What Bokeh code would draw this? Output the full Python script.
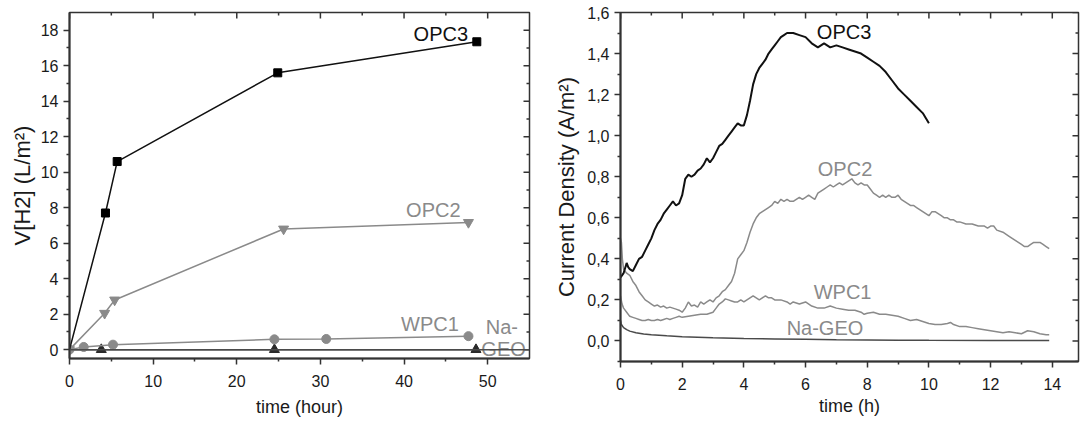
import math
from bokeh.plotting import figure
from bokeh.models import Range1d, FixedTicker, Span, Title
from bokeh.layouts import row
from bokeh.core.properties import value
from bokeh.embed import file_html
from bokeh.resources import INLINE

# ---------------- left chart data: V[H2] vs time (hour) ----------------
t_opc3 = [0, 4.3, 5.7, 24.9, 48.7]
v_opc3 = [0, 7.7, 10.6, 15.6, 17.35]
t_opc2 = [0, 4.2, 5.4, 25.6, 47.7]
v_opc2 = [0, 2.05, 2.8, 6.8, 7.17]
t_wpc1 = [0, 1.7, 5.2, 24.5, 30.7, 47.7]
v_wpc1 = [0, 0.15, 0.28, 0.58, 0.6, 0.76]
t_nageo = [0, 3.8, 24.5, 48.6]
v_nageo = [0, 0, 0, 0]

left_x_ticks = [0, 10, 20, 30, 40, 50]
left_x_minor = [5, 15, 25, 35, 45]
left_y_ticks = [0, 2, 4, 6, 8, 10, 12, 14, 16, 18]
left_y_minor = [1, 3, 5, 7, 9, 11, 13, 15, 17]

# ---------------- right chart data: current density vs time (h) ----------------
cd_t_opc3 = [0.00, 0.05, 0.10, 0.20, 0.25, 0.30, 0.40, 0.50, 0.60, 0.70, 0.80, 0.90,
             1.00, 1.10, 1.20, 1.30, 1.40, 1.50, 1.60, 1.70, 1.80, 1.90, 2.00, 2.10,
             2.20, 2.30, 2.40, 2.50, 2.60, 2.70, 2.80, 2.90, 3.00, 3.10, 3.20, 3.30,
             3.40, 3.50, 3.60, 3.70, 3.80, 3.90, 4.00, 4.10, 4.20, 4.30, 4.40, 4.50,
             4.60, 4.70, 4.80, 4.90, 5.00, 5.10, 5.20, 5.30, 5.40, 5.60, 5.80, 6.00,
             6.20, 6.40, 6.60, 6.80, 7.00, 7.20, 7.40, 7.60, 7.80, 8.00, 8.20, 8.40,
             8.60, 8.80, 9.00, 9.20, 9.40, 9.60, 9.80, 10.00]
cd_opc3 = [0.31, 0.32, 0.33, 0.38, 0.36, 0.35, 0.34, 0.37, 0.40, 0.41, 0.44, 0.47,
           0.50, 0.54, 0.57, 0.59, 0.62, 0.64, 0.66, 0.68, 0.66, 0.67, 0.71, 0.79,
           0.81, 0.80, 0.81, 0.83, 0.84, 0.86, 0.89, 0.87, 0.89, 0.92, 0.95, 0.96,
           0.98, 1.00, 1.02, 1.04, 1.06, 1.05, 1.05, 1.10, 1.17, 1.25, 1.30, 1.33,
           1.35, 1.37, 1.40, 1.42, 1.44, 1.46, 1.48, 1.49, 1.50, 1.50, 1.49, 1.48,
           1.45, 1.43, 1.45, 1.43, 1.44, 1.43, 1.42, 1.41, 1.40, 1.38, 1.36, 1.34,
           1.31, 1.27, 1.23, 1.20, 1.17, 1.14, 1.11, 1.06]

cd_t_opc2 = [0.00, 0.03, 0.06, 0.10, 0.20, 0.30, 0.40, 0.50, 0.60, 0.70, 0.80, 0.90,
             1.00, 1.10, 1.20, 1.30, 1.40, 1.50, 1.60, 1.70, 1.80, 1.90, 2.00, 2.10,
             2.20, 2.30, 2.40, 2.50, 2.60, 2.70, 2.80, 2.90, 3.00, 3.10, 3.20, 3.30,
             3.40, 3.50, 3.60, 3.70, 3.80, 3.90, 4.00, 4.10, 4.20, 4.30, 4.40, 4.50,
             4.60, 4.70, 4.80, 4.90, 5.00, 5.10, 5.20, 5.30, 5.40, 5.50, 5.60, 5.70,
             5.80, 5.90, 6.00, 6.10, 6.20, 6.30, 6.40, 6.50, 6.60, 6.70, 6.80, 6.90,
             7.00, 7.10, 7.20, 7.30, 7.40, 7.50, 7.60, 7.70, 7.80, 7.90, 8.00, 8.10,
             8.20, 8.30, 8.40, 8.50, 8.60, 8.70, 8.80, 8.90, 9.00, 9.10, 9.20, 9.30,
             9.40, 9.50, 9.60, 9.70, 9.80, 9.90, 10.00, 10.10, 10.20, 10.30, 10.40,
             10.50, 10.60, 10.70, 10.80, 10.90, 11.00, 11.20, 11.40, 11.60, 11.80,
             11.90, 12.00, 12.10, 12.20, 12.40, 12.60, 12.80, 13.00, 13.10, 13.20,
             13.30, 13.40, 13.50, 13.60, 13.70, 13.80, 13.90]
cd_opc2 = [0.50, 0.48, 0.40, 0.35, 0.33, 0.32, 0.29, 0.27, 0.24, 0.22, 0.20, 0.19,
           0.18, 0.17, 0.175, 0.165, 0.17, 0.16, 0.165, 0.16, 0.155, 0.15, 0.14, 0.16,
           0.19, 0.17, 0.175, 0.165, 0.19, 0.18, 0.19, 0.20, 0.19, 0.21, 0.22, 0.24,
           0.25, 0.27, 0.29, 0.33, 0.40, 0.42, 0.44, 0.48, 0.53, 0.57, 0.60, 0.62,
           0.63, 0.64, 0.65, 0.66, 0.68, 0.67, 0.69, 0.68, 0.69, 0.68, 0.68, 0.69,
           0.70, 0.69, 0.70, 0.71, 0.70, 0.69, 0.72, 0.73, 0.74, 0.75, 0.76, 0.75,
           0.76, 0.77, 0.76, 0.77, 0.78, 0.79, 0.77, 0.76, 0.77, 0.76, 0.76, 0.74,
           0.72, 0.71, 0.70, 0.71, 0.70, 0.71, 0.70, 0.70, 0.71, 0.69, 0.68, 0.67,
           0.66, 0.66, 0.65, 0.64, 0.63, 0.62, 0.61, 0.63, 0.63, 0.62, 0.61,
           0.60, 0.60, 0.59, 0.59, 0.58, 0.58, 0.57, 0.57, 0.56, 0.56,
           0.55, 0.56, 0.56, 0.54, 0.53, 0.51, 0.49, 0.47, 0.46, 0.46,
           0.47, 0.48, 0.48, 0.48, 0.47, 0.46, 0.45]

cd_t_wpc1 = [0.00, 0.05, 0.10, 0.20, 0.30, 0.40, 0.50, 0.60, 0.70, 0.80, 0.90, 1.00,
             1.10, 1.20, 1.30, 1.40, 1.50, 1.60, 1.70, 1.80, 1.90, 2.00, 2.20, 2.40,
             2.60, 2.80, 3.00, 3.10, 3.20, 3.30, 3.40, 3.50, 3.60, 3.70, 3.80, 3.90,
             4.00, 4.10, 4.20, 4.30, 4.40, 4.50, 4.60, 4.70, 4.80, 4.90, 5.00, 5.20,
             5.40, 5.50, 5.60, 5.80, 6.00, 6.20, 6.40, 6.60, 6.80, 7.00, 7.20, 7.40,
             7.60, 7.80, 7.90, 8.00, 8.20, 8.40, 8.60, 8.80, 9.00, 9.20, 9.40, 9.60,
             9.80, 10.00, 10.20, 10.40, 10.60, 10.70, 10.80, 11.00, 11.20, 11.40,
             11.60, 11.80, 12.00, 12.20, 12.40, 12.60, 12.80, 13.00, 13.20, 13.40,
             13.60, 13.80, 13.90]
cd_wpc1 = [0.22, 0.18, 0.16, 0.14, 0.12, 0.115, 0.11, 0.105, 0.10, 0.10, 0.105, 0.10,
           0.10, 0.105, 0.10, 0.105, 0.11, 0.105, 0.11, 0.115, 0.12, 0.115, 0.12, 0.125,
           0.13, 0.13, 0.14, 0.16, 0.18, 0.19, 0.205, 0.20, 0.195, 0.19, 0.19, 0.20,
           0.19, 0.20, 0.21, 0.22, 0.21, 0.20, 0.21, 0.22, 0.21, 0.21, 0.20, 0.20,
           0.19, 0.18, 0.19, 0.18, 0.19, 0.17, 0.16, 0.16, 0.17, 0.16, 0.155, 0.15,
           0.15, 0.14, 0.13, 0.135, 0.14, 0.13, 0.13, 0.125, 0.12, 0.11, 0.10, 0.105,
           0.095, 0.085, 0.08, 0.08, 0.085, 0.09, 0.08, 0.07, 0.07, 0.065,
           0.06, 0.055, 0.05, 0.045, 0.04, 0.045, 0.04, 0.035, 0.05, 0.045,
           0.035, 0.03, 0.03]

cd_t_nageo = [0.00, 0.02, 0.05, 0.10, 0.20, 0.30, 0.50, 0.75, 1.00, 1.50, 2.00, 3.00,
              4.00, 5.00, 6.00, 7.00, 8.00, 9.00, 10.00, 12.00, 13.90]
cd_nageo = [0.10, 0.085, 0.075, 0.065, 0.055, 0.048, 0.04, 0.034, 0.030, 0.025, 0.021,
            0.016, 0.012, 0.010, 0.008, 0.006, 0.005, 0.004, 0.003, 0.002, 0.002]

right_x_ticks = [0, 2, 4, 6, 8, 10, 12, 14]
right_x_minor = [1, 3, 5, 7, 9, 11, 13]
right_y_ticks = [0.0, 0.2, 0.4, 0.6, 0.8, 1.0, 1.2, 1.4, 1.6]
right_y_labels = ["0,0", "0,2", "0,4", "0,6", "0,8", "1,0", "1,2", "1,4", "1,6"]
right_y_minor = [-0.1, 0.1, 0.3, 0.5, 0.7, 0.9, 1.1, 1.3, 1.5]

FONT = "Liberation Sans"
AX = "#333333"
BLACK = "#111111"
GREY = "#8a8a8a"
DARK = "#4a4a4a"


def style(p, xt, xm, yt, ym, label_standoff, title_standoff):
    p.xgrid.visible = False
    p.ygrid.visible = False
    p.outline_line_color = AX
    p.outline_line_width = 1.5
    p.background_fill_color = "white"
    p.border_fill_color = "white"
    for ax in (p.xaxis[0], p.yaxis[0]):
        ax.axis_line_color = AX
        ax.axis_line_width = 2
        ax.major_tick_line_color = AX
        ax.minor_tick_line_color = AX
        ax.major_tick_line_width = 1.5
        ax.minor_tick_line_width = 1.5
        ax.major_tick_in = 0
        ax.major_tick_out = 6
        ax.minor_tick_in = 0
        ax.minor_tick_out = 3
        ax.major_label_text_font = FONT
        ax.major_label_text_font_size = "16px"
        ax.major_label_text_color = "#1a1a1a"
        ax.axis_label_text_font = FONT
        ax.axis_label_text_font_style = "normal"
        ax.axis_label_text_color = "#1a1a1a"
    p.xaxis[0].axis_label_text_font_size = "18px"
    p.xaxis[0].major_label_standoff = label_standoff
    p.xaxis[0].axis_label_standoff = title_standoff
    p.yaxis[0].major_label_standoff = 5
    p.xaxis[0].ticker = FixedTicker(ticks=xt, minor_ticks=xm)
    p.yaxis[0].ticker = FixedTicker(ticks=yt, minor_ticks=ym)
    # mirrored inward ticks on the top and right frame edges
    xe = p.x_range.end
    ye = p.y_range.end
    p.scatter(xt, [ye] * len(xt), marker="dash", angle=math.pi / 2, size=12,
              line_color=AX, line_width=1.5)
    p.scatter(xm, [ye] * len(xm), marker="dash", angle=math.pi / 2, size=6,
              line_color=AX, line_width=1.5)
    p.scatter([xe] * len(yt), yt, marker="dash", size=12, line_color=AX, line_width=1.5)
    p.scatter([xe] * len(ym), ym, marker="dash", size=6, line_color=AX, line_width=1.5)


def y_title(p, text, offset, standoff):
    p.add_layout(Title(text=text, align="center", offset=offset, standoff=standoff,
                       text_font=FONT, text_font_size="22px", text_font_style="normal",
                       text_color="#1a1a1a"), "left")


# ---------------- left figure ----------------
p1 = figure(frame_width=460, frame_height=346,
            x_range=Range1d(0, 55), y_range=Range1d(-0.5, 19),
            output_backend="svg", toolbar_location=None,
            min_border_left=69, min_border_right=16,
            min_border_top=12, min_border_bottom=60)
p1.xaxis.axis_label = "time (hour)"
style(p1, left_x_ticks, left_x_minor, left_y_ticks, left_y_minor, 10, 7)
y_title(p1, "V[H2] (L/m²)", -50, 6)

p1.add_layout(Span(location=0, dimension="width", line_color=DARK, line_width=1.5))
p1.line(t_nageo, v_nageo, line_color=DARK, line_width=1.5)
p1.scatter(t_nageo[1:], v_nageo[1:], marker="triangle", size=10,
           fill_color="#2a2a2a", line_color="#2a2a2a")
p1.line(t_wpc1, v_wpc1, line_color=GREY, line_width=1.5)
p1.scatter(t_wpc1, v_wpc1, marker="circle", size=9, fill_color=GREY, line_color=GREY)
p1.line(t_opc2, v_opc2, line_color=GREY, line_width=1.5)
p1.scatter(t_opc2, v_opc2, marker="inverted_triangle", size=10, fill_color=GREY, line_color=GREY)
p1.line(t_opc3, v_opc3, line_color=BLACK, line_width=1.5)
p1.scatter(t_opc3[1:], v_opc3[1:], marker="square", size=8, fill_color="black", line_color="black")

p1.text(x=[44.4], y=[17.8], text=["OPC3"], text_color=BLACK,
        text_font=value(FONT), text_font_size=value("20px"), text_align="center", text_baseline="middle")
p1.text(x=[43.5, 43.1, 51.7, 51.9], y=[7.88, 1.45, 1.27, 0.02],
        text=["OPC2", "WPC1", "Na-", "GEO"], text_color=GREY,
        text_font=value(FONT), text_font_size=value("20px"), text_align="center", text_baseline="middle")

# ---------------- right figure ----------------
p2 = figure(frame_width=458, frame_height=349,
            x_range=Range1d(0, 14.85), y_range=Range1d(-0.1, 1.6),
            output_backend="svg", toolbar_location=None,
            min_border_left=75, min_border_right=2,
            min_border_top=12, min_border_bottom=60)
p2.xaxis.axis_label = "time (h)"
style(p2, right_x_ticks, right_x_minor, right_y_ticks, right_y_minor, 10, 3)
p2.yaxis[0].major_label_overrides = dict(zip(right_y_ticks, right_y_labels))
y_title(p2, "Current Density (A/m²)", -30, 12)

p2.line(cd_t_nageo, cd_nageo, line_color=DARK, line_width=1.5)
p2.line(cd_t_wpc1, cd_wpc1, line_color=GREY, line_width=1.5)
p2.line(cd_t_opc2, cd_opc2, line_color=GREY, line_width=1.5)
p2.line(cd_t_opc3, cd_opc3, line_color=BLACK, line_width=2)

p2.text(x=[7.25], y=[1.507], text=["OPC3"], text_color=BLACK,
        text_font=value(FONT), text_font_size=value("20px"), text_align="center", text_baseline="middle")
p2.text(x=[7.28, 7.2, 6.63], y=[0.836, 0.24, 0.064], text=["OPC2", "WPC1", "Na-GEO"],
        text_color=GREY, text_font=value(FONT), text_font_size=value("20px"),
        text_align="center", text_baseline="middle")

layout = row(p1, p2)
open("out.html", "w").write(file_html(layout, INLINE))
